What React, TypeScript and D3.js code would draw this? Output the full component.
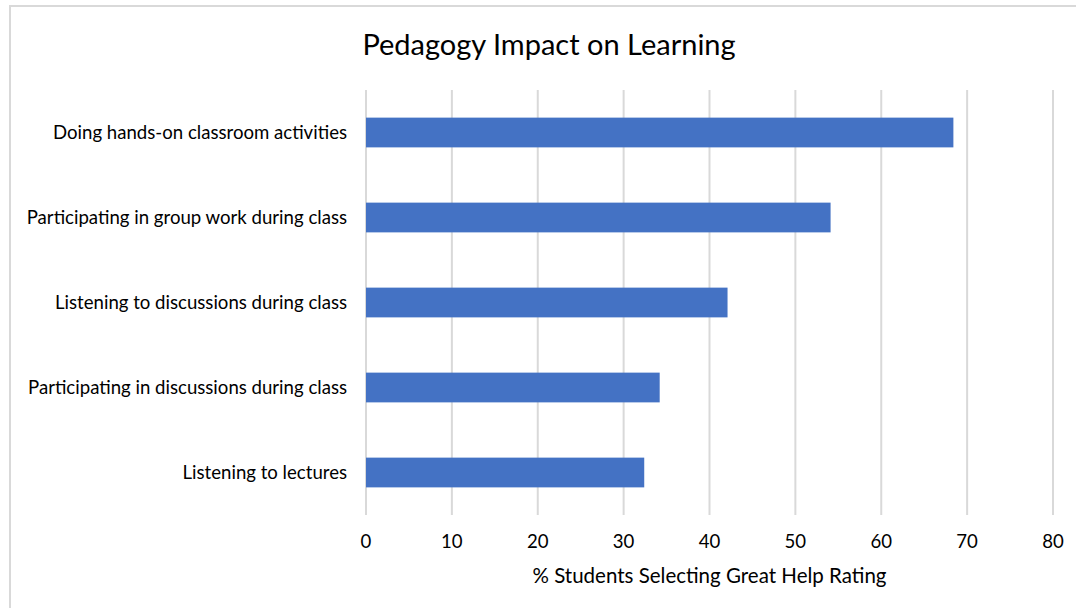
import * as d3 from 'd3';
import { useEffect, useRef } from 'react';

const categories = [
  'Doing hands-on classroom activities',
  'Participating in group work during class',
  'Listening to discussions during class',
  'Participating in discussions during class',
  'Listening to lectures',
];
const values = [68.4, 54.1, 42.1, 34.2, 32.4];
const xTicks = [0, 10, 20, 30, 40, 50, 60, 70, 80];

const FONT = 'Lato, "Open Sans", sans-serif';

export default function App() {
  const svgRef = useRef<SVGSVGElement>(null);

  useEffect(() => {
    const svg = d3.select(svgRef.current);
    svg.selectAll('*').remove();

    const margin = { top: 90, left: 366, right: 23, bottom: 93 };
    const W = 1076, H = 608;
    const width = W - margin.left - margin.right;
    const height = H - margin.top - margin.bottom;

    // chart frame
    svg.append('rect')
      .attr('x', 10).attr('y', 6)
      .attr('width', 1100).attr('height', 700)
      .attr('fill', 'white')
      .attr('stroke', '#d9d9d9')
      .attr('stroke-width', 2);

    svg.append('text')
      .attr('x', 549).attr('y', 55)
      .attr('text-anchor', 'middle')
      .attr('font-family', FONT)
      .attr('font-size', 29)
      .attr('fill', '#000')
      .text('Pedagogy Impact on Learning');

    const x = d3.scaleLinear().domain([0, 80]).range([0, width]);
    const y = d3.scaleBand().domain(categories).range([0, height]).paddingInner(0.65).paddingOuter(0.325);

    const g = svg.append('g').attr('transform', `translate(${margin.left},${margin.top})`);

    g.selectAll('.grid')
      .data(xTicks)
      .enter().append('line')
      .attr('x1', d => x(d)).attr('x2', d => x(d))
      .attr('y1', 0).attr('y2', height)
      .attr('stroke', '#d9d9d9')
      .attr('stroke-width', 2);

    g.selectAll('.bar')
      .data(categories)
      .enter().append('rect')
      .attr('x', x(0))
      .attr('y', d => y(d)!)
      .attr('width', (d, i) => x(values[i]) - x(0))
      .attr('height', y.bandwidth())
      .attr('fill', '#4472c4');

    g.selectAll('.cat')
      .data(categories)
      .enter().append('text')
      .attr('x', -19)
      .attr('y', d => y(d)! + y.bandwidth() / 2)
      .attr('dy', '0.35em')
      .attr('text-anchor', 'end')
      .attr('font-family', FONT)
      .attr('font-size', 18.6)
      .attr('fill', '#000')
      .text(d => d);

    g.selectAll('.tick')
      .data(xTicks)
      .enter().append('text')
      .attr('x', d => x(d))
      .attr('y', height + 33)
      .attr('text-anchor', 'middle')
      .attr('font-family', FONT)
      .attr('font-size', 18.6)
      .attr('fill', '#000')
      .text(d => d);

    svg.append('text')
      .attr('x', margin.left + x(40))
      .attr('y', 583)
      .attr('text-anchor', 'middle')
      .attr('font-family', FONT)
      .attr('font-size', 20.5)
      .attr('fill', '#000')
      .text('% Students Selecting Great Help Rating');
  }, []);

  return (
    <svg ref={svgRef} width={1076} height={608}
      style={{ position: 'absolute', left: 0, top: 0, display: 'block' }} />
  );
}
